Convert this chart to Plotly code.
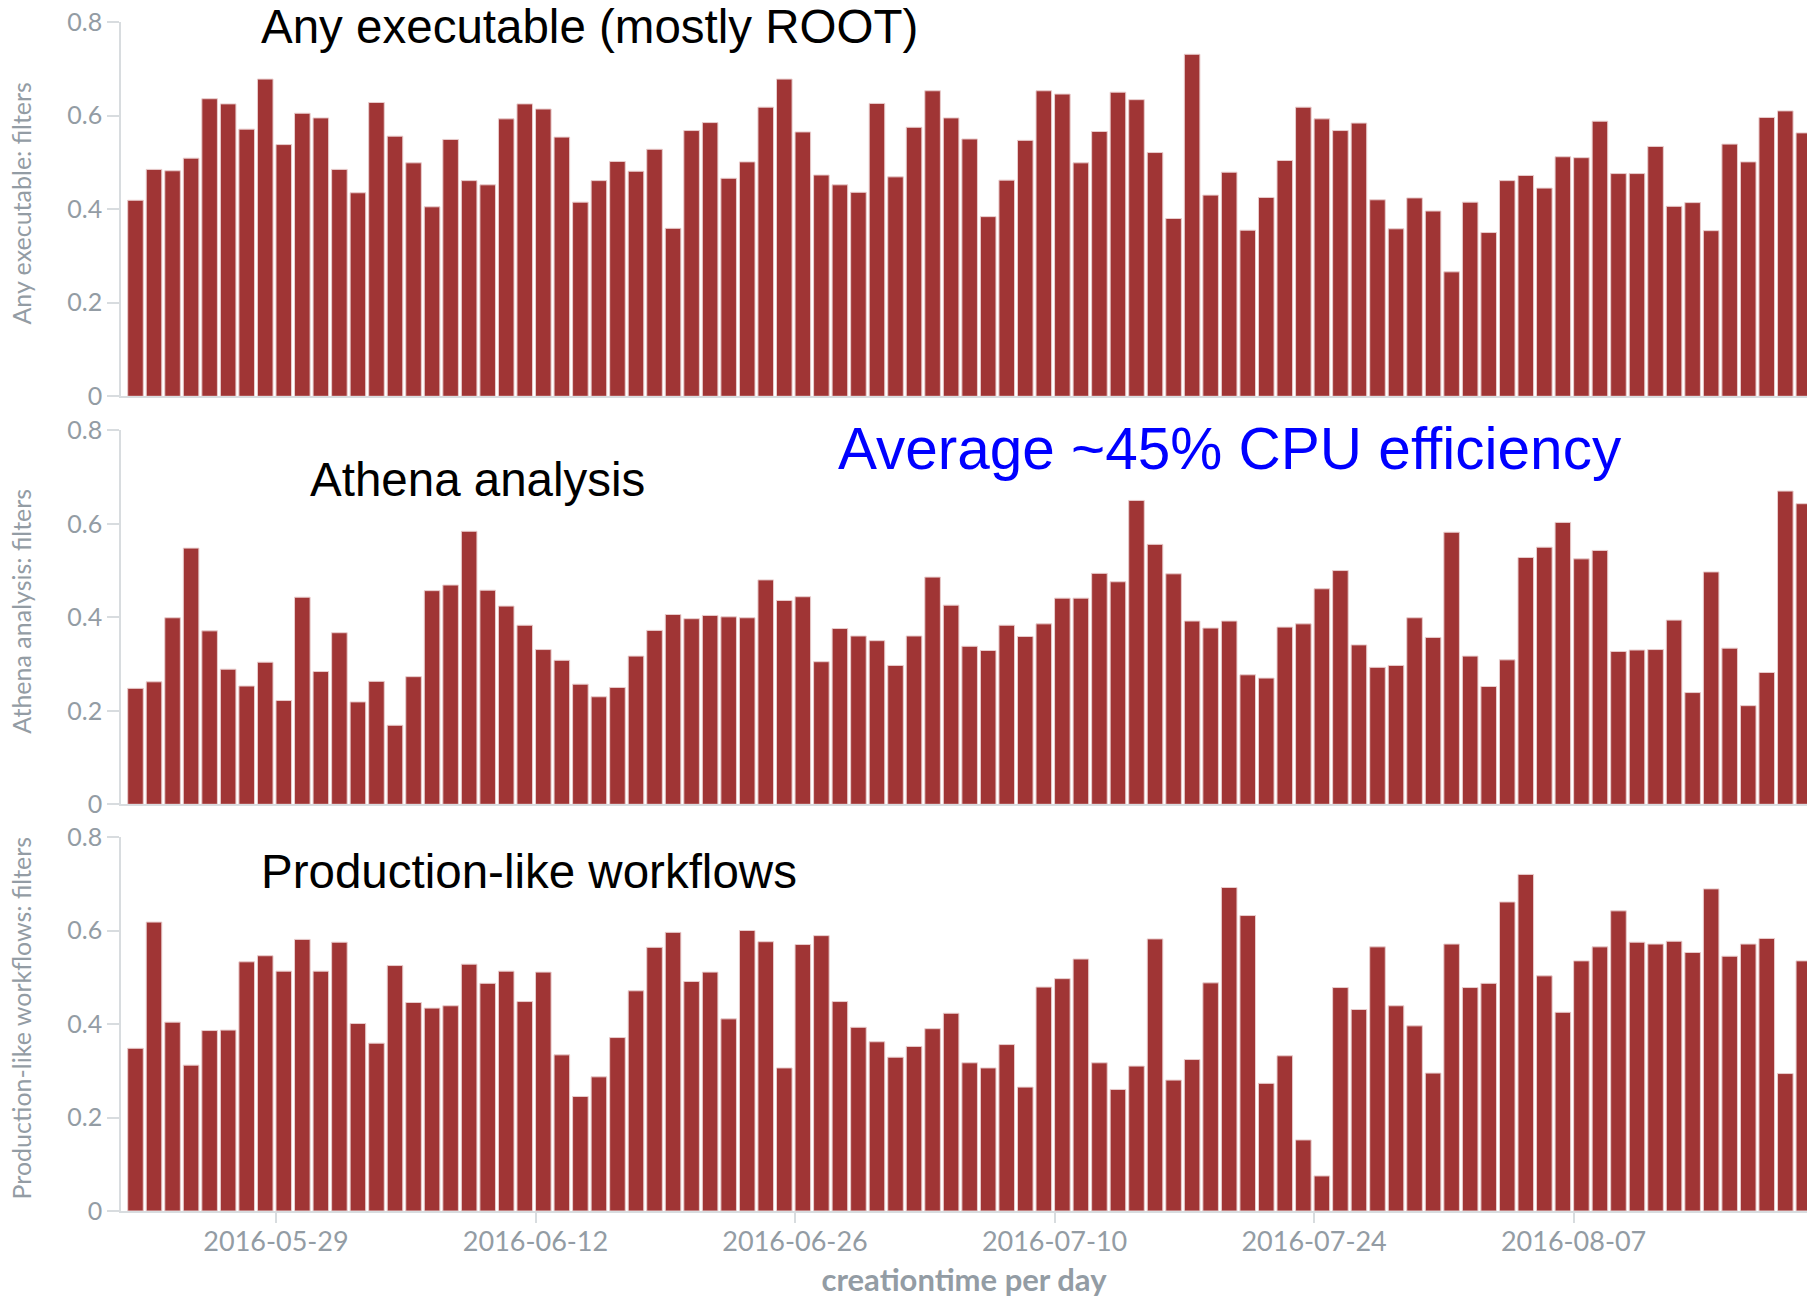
import pandas as pd
import plotly.graph_objects as go

# ---------------- data ----------------
start_date = "2016-05-21"
n_days = 91
dates = pd.date_range(start_date, periods=n_days, freq="D")

tick_dates = ["2016-05-29", "2016-06-12", "2016-06-26", "2016-07-10", "2016-07-24", "2016-08-07"]

any_exec = [0.419, 0.485, 0.482, 0.509, 0.636, 0.625, 0.571, 0.678, 0.538, 0.605,
            0.595, 0.485, 0.435, 0.628, 0.556, 0.499, 0.405, 0.549, 0.461, 0.452,
            0.593, 0.625, 0.614, 0.554, 0.415, 0.461, 0.502, 0.481, 0.528, 0.359,
            0.568, 0.585, 0.466, 0.501, 0.618, 0.678, 0.565, 0.473, 0.452, 0.436,
            0.626, 0.469, 0.575, 0.653, 0.595, 0.550, 0.384, 0.462, 0.547, 0.653,
            0.646, 0.499, 0.566, 0.650, 0.634, 0.521, 0.380, 0.731, 0.430, 0.479,
            0.355, 0.425, 0.504, 0.618, 0.593, 0.568, 0.584, 0.420, 0.358, 0.424,
            0.396, 0.266, 0.415, 0.350, 0.461, 0.472, 0.445, 0.512, 0.510, 0.588,
            0.476, 0.476, 0.534, 0.406, 0.414, 0.354, 0.539, 0.501, 0.596, 0.610, 0.563]

athena = [0.248, 0.262, 0.399, 0.548, 0.371, 0.289, 0.253, 0.304, 0.222, 0.443,
          0.284, 0.367, 0.219, 0.263, 0.169, 0.273, 0.457, 0.469, 0.584, 0.458,
          0.424, 0.383, 0.331, 0.308, 0.257, 0.230, 0.250, 0.317, 0.372, 0.406,
          0.397, 0.404, 0.401, 0.399, 0.480, 0.436, 0.444, 0.305, 0.376, 0.360,
          0.350, 0.297, 0.360, 0.486, 0.426, 0.338, 0.329, 0.383, 0.359, 0.386,
          0.441, 0.441, 0.494, 0.476, 0.650, 0.556, 0.493, 0.392, 0.377, 0.392,
          0.277, 0.270, 0.379, 0.386, 0.461, 0.500, 0.341, 0.293, 0.297, 0.399,
          0.357, 0.582, 0.317, 0.252, 0.309, 0.528, 0.550, 0.603, 0.525, 0.543,
          0.327, 0.330, 0.331, 0.394, 0.239, 0.497, 0.334, 0.211, 0.282, 0.670, 0.643]

production = [0.348, 0.618, 0.404, 0.312, 0.386, 0.387, 0.533, 0.546, 0.513, 0.581,
              0.513, 0.575, 0.401, 0.359, 0.525, 0.446, 0.434, 0.439, 0.528, 0.487,
              0.513, 0.448, 0.511, 0.334, 0.245, 0.287, 0.371, 0.471, 0.564, 0.596,
              0.491, 0.511, 0.411, 0.600, 0.576, 0.306, 0.570, 0.589, 0.448, 0.393,
              0.362, 0.329, 0.352, 0.390, 0.423, 0.317, 0.306, 0.356, 0.265, 0.479,
              0.497, 0.539, 0.317, 0.260, 0.310, 0.582, 0.280, 0.324, 0.488, 0.692,
              0.632, 0.273, 0.332, 0.152, 0.075, 0.478, 0.431, 0.565, 0.439, 0.396,
              0.295, 0.571, 0.478, 0.487, 0.661, 0.720, 0.503, 0.425, 0.535, 0.565,
              0.642, 0.575, 0.571, 0.577, 0.553, 0.689, 0.545, 0.571, 0.583, 0.294, 0.535]

panel_titles = ["Any executable: filters", "Athena analysis: filters", "Production-like workflows: filters"]
panel_labels = ["Any executable (mostly ROOT)", "Athena analysis", "Production-like workflows"]
highlight_text = "Average ~45% CPU efficiency"
x_title = "creationtime per day"

# ---------------- style ----------------
BAR = "#a03535"
BAR_EDGE = "#e9cdcd"
AXIS = "#d8dcdf"
GREY = "#939ca4"
DAY_MS = 86400000
W, H = 1807, 1298
ML, MR, MT, MB = 120.6, 0, 21.7, 87.3
plot_h = H - MT - MB

def py2paper(py):
    return (H - MB - py) / plot_h

def px2paper(px):
    return (px - ML) / (W - ML - MR)

panel_px = [(21.7, 396), (430, 804), (836.7, 1210.7)]
domains = [[py2paper(b), py2paper(t)] for t, b in panel_px]
domains[0][1] = 1.0
domains[2][0] = 0.0
x_range = ["2016-05-20 15:20", "2016-08-19 14:10"]

fig = go.Figure()
series = [any_exec, athena, production]
for i, vals in enumerate(series):
    sfx = "" if i == 0 else str(i + 1)
    fig.add_trace(go.Bar(
        x=dates, y=vals, xaxis="x" + sfx, yaxis="y" + sfx,
        marker=dict(color=BAR, line=dict(color=BAR_EDGE, width=1)),
        width=0.84 * DAY_MS, offset=0, showlegend=False,
    ))

layout = dict(
    width=W, height=H,
    margin=dict(l=ML, r=MR, t=MT, b=MB, pad=0),
    paper_bgcolor="white", plot_bgcolor="white",
    font=dict(family="Lato, Open Sans, sans-serif", color=GREY),
    bargap=0.1,
)
for i in range(3):
    sfx = "" if i == 0 else str(i + 1)
    last = i == 2
    xa = dict(
        type="date", range=x_range, domain=[0, 1], anchor="y" + sfx,
        showgrid=False, zeroline=False, showline=True, linecolor=AXIS, linewidth=1.5,
        showticklabels=last, ticks="outside" if last else "",
        ticklen=10, tickcolor=AXIS, tickwidth=1.5, ticklabelstandoff=-4,
        tickvals=tick_dates, tickformat="%Y-%m-%d",
        tickfont=dict(family="Lato", size=27, color=GREY),
    )
    if i > 0:
        xa["matches"] = "x"
    if last:
        xa["title"] = dict(text=x_title, standoff=17,
                           font=dict(family="Lato", size=31, color=GREY, weight="bold"))
    ya = dict(
        domain=domains[i], range=[0, 0.8], anchor="x" + sfx,
        tickvals=[0, 0.2, 0.4, 0.6, 0.8], ticktext=["0", "0.2", "0.4", "0.6", "0.8"],
        showgrid=False, zeroline=False, showline=True, linecolor=AXIS, linewidth=1.5,
        ticks="outside", ticklen=12, tickcolor=AXIS, tickwidth=1.5,
        tickfont=dict(family="Lato", size=25, color=GREY),
    )
    layout["xaxis" + sfx] = xa
    layout["yaxis" + sfx] = ya

annotations = []
# rotated y-axis titles, placed at the far left like the reference
for txt, (t, b) in zip(panel_titles, panel_px):
    annotations.append(dict(
        text=txt, xref="paper", yref="paper", x=px2paper(21), y=py2paper((t + b) / 2 - 6),
        xanchor="center", yanchor="middle", textangle=-90, showarrow=False,
        font=dict(family="Lato", size=25, color=GREY),
    ))

label_pos = [(259, 26.5), (308, 479), (259, 871)]
for txt, (lx, ly) in zip(panel_labels, label_pos):
    annotations.append(dict(
        text=txt, xref="paper", yref="paper", x=px2paper(lx), y=py2paper(ly),
        xanchor="left", yanchor="middle", showarrow=False,
        font=dict(family="Liberation Sans, Arial, sans-serif", size=47.5, color="black"),
    ))
annotations.append(dict(
    text=highlight_text, xref="paper", yref="paper", x=px2paper(836), y=py2paper(448.5),
    xanchor="left", yanchor="middle", showarrow=False,
    font=dict(family="Liberation Sans, Arial, sans-serif", size=58.5, color="#0000ff"),
))
layout["annotations"] = annotations

fig.update_layout(**layout)
fig.write_html("out.html")
